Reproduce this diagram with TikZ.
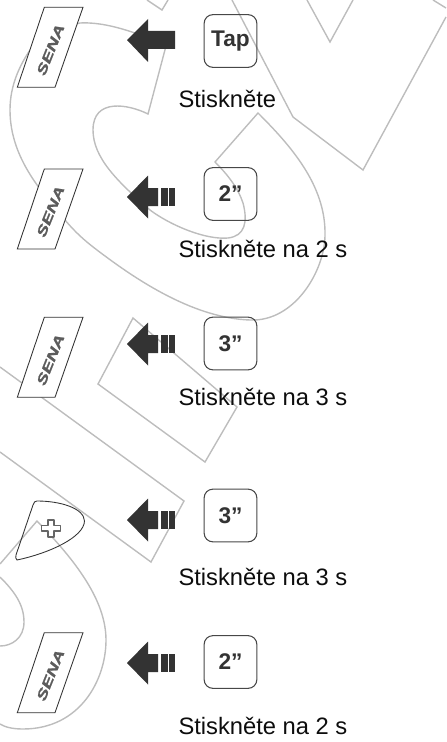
\documentclass[tikz,border=0pt]{standalone}
\usepackage{graphicx}
\usepackage{fontspec}
\setmainfont{Liberation Sans}
\newfontfamily\logofont[FakeBold=1.2]{Liberation Sans}
\definecolor{wm}{HTML}{BDBDBD}
\definecolor{ink}{HTML}{333333}
\tikzset{
  every node/.style={inner sep=0pt,outer sep=0pt},
  wmline/.style={draw=wm,line width=1.05pt,line join=miter},
  keycap/.style={draw=ink!90,line width=0.8pt,rounded corners=6.5pt,minimum width=39.5pt,minimum height=39.5pt,text=ink,font=\fontsize{17}{19}\selectfont\bfseries},
  caption/.style={anchor=base west,text=black!95,font=\fontsize{17.8}{20}\selectfont},
  plate/.style={draw=ink,line width=0.65pt,fill=white,line join=miter},
  logo/.style={rotate=68,text=ink!80,font=\fontsize{10}{12}\logofont\bfseries\itshape},
  pick/.style={draw=ink,line width=0.65pt},
  plusicon/.style={draw=black!60,line width=0.95pt,fill=white,line join=round},
  arrowfill/.style={fill=ink}
}
\newcommand{\longarrow}[1]{\fill[arrowfill] (127,#1) -- (148,#1-21.5) -- (148,#1-9) -- (158,#1-9) -- (158,#1+9) -- (148,#1+9) -- (148,#1+21.5) -- cycle;
  \fill[arrowfill] (161,#1-9) rectangle (167.5,#1+9);
  \fill[arrowfill] (168.5,#1-9) rectangle (175,#1+9);}
\newcommand{\senaplate}[2]{\draw[plate] (44.3,#1) -- (83,#1) -- (55,#1+80) -- (17.3,#1+80) -- cycle;
  \node[logo] (#2) at (50.5,#1+42.5) {\scalebox{1.45}[1]{SENA}};}
\begin{document}
\begin{tikzpicture}[x=0.75pt,y=-0.75pt]
\useasboundingbox (0,0) rectangle (446,742);
% watermark outlines
\draw[wmline] (147,0) -- (162,10) -- (168,0);
\draw[wmline] (232,0) -- (293,117) -- (363,170) -- (446,17);
\draw[wmline] (433,0) -- (446,8);
\draw[wmline] (307,0) -- (330,42) -- (353,0);
\draw[wmline] (80,23) .. controls (100,22) and (120,28) .. (135,33)
  -- (166,46) -- (148,114)
  .. controls (128,104) and (93,98) .. (93,130)
  .. controls (93,158) and (118,182) .. (150,210)
  .. controls (170,225) and (205,240) .. (228,238)
  .. controls (245,236) and (248,222) .. (243,203)
  .. controls (238,188) and (228,175) .. (215,162)
  -- (258,113)
  .. controls (290,145) and (326,185) .. (325,235)
  .. controls (325,270) and (295,322) .. (250,320)
  .. controls (190,318) and (130,275) .. (97,250)
  .. controls (85,241) and (75,232) .. (65,220)
  .. controls (45,195) and (10,160) .. (10,110)
  .. controls (10,85) and (20,65) .. (30,50) -- (50,30) -- cycle;
\draw[wmline] (133,318) -- (98,384) -- (205,462) -- (237,407) -- cycle;
\draw[wmline] (0,367) -- (184,501) -- (151,562) -- (0,452);
\draw[wmline] (0,564) -- (37,521)
  .. controls (75,560) and (106,600) .. (106,640)
  .. controls (106,680) and (80,729) .. (23,729)
  .. controls (12,729) and (5,727) .. (0,724);
\draw[wmline] (0,577) .. controls (15,592) and (24,605) .. (24,622)
  .. controls (24,638) and (12,646) .. (0,646);
% SENA plates
\senaplate{7.3}{logoa}
\senaplate{169}{logob}
\senaplate{317.3}{logoc}
\senaplate{632.7}{logoe}
% pick with plus
\draw[pick] (37,501) .. controls (60,501) and (84,508) .. (84.5,521)
  .. controls (84,537) and (50,553) .. (17,560)
  .. controls (15.5,559) and (15.5,557) .. (16,555)
  -- (33,505) .. controls (34,502) and (35,501) .. (37,501) -- cycle;
\draw[plusicon] (48,520) -- (54,520) -- (54,525.5) -- (60.5,525.5) -- (60.5,531) -- (54,531) -- (54,537) -- (48,537) -- (48,531) -- (41.5,531) -- (41.5,525.5) -- (48,525.5) -- cycle;
% arrows
\fill[arrowfill] (127,40) -- (148,19) -- (148,31) -- (175,31) -- (175,49) -- (148,49) -- (148,62) -- cycle;
\longarrow{197}
\longarrow{344}
\longarrow{520}
\longarrow{663}
% keys
\node[keycap] (k1) at (230.5,41) {Tap};
\node[keycap] (k2) at (230.5,194) {2”};
\node[keycap] (k3) at (230.5,343.5) {3”};
\node[keycap] (k4) at (230.5,515.5) {3”};
\node[keycap] (k5) at (230.5,662) {2”};
% captions
\node[caption] (c1) at (178.5,107.5) {Stiskněte};
\node[caption] (c2) at (178.5,257) {Stiskněte na 2 s};
\node[caption] (c3) at (178.5,405) {Stiskněte na 3 s};
\node[caption] (c4) at (178.5,585) {Stiskněte na 3 s};
\node[caption] (c5) at (178.5,734) {Stiskněte na 2 s};
\end{tikzpicture}
\end{document}
